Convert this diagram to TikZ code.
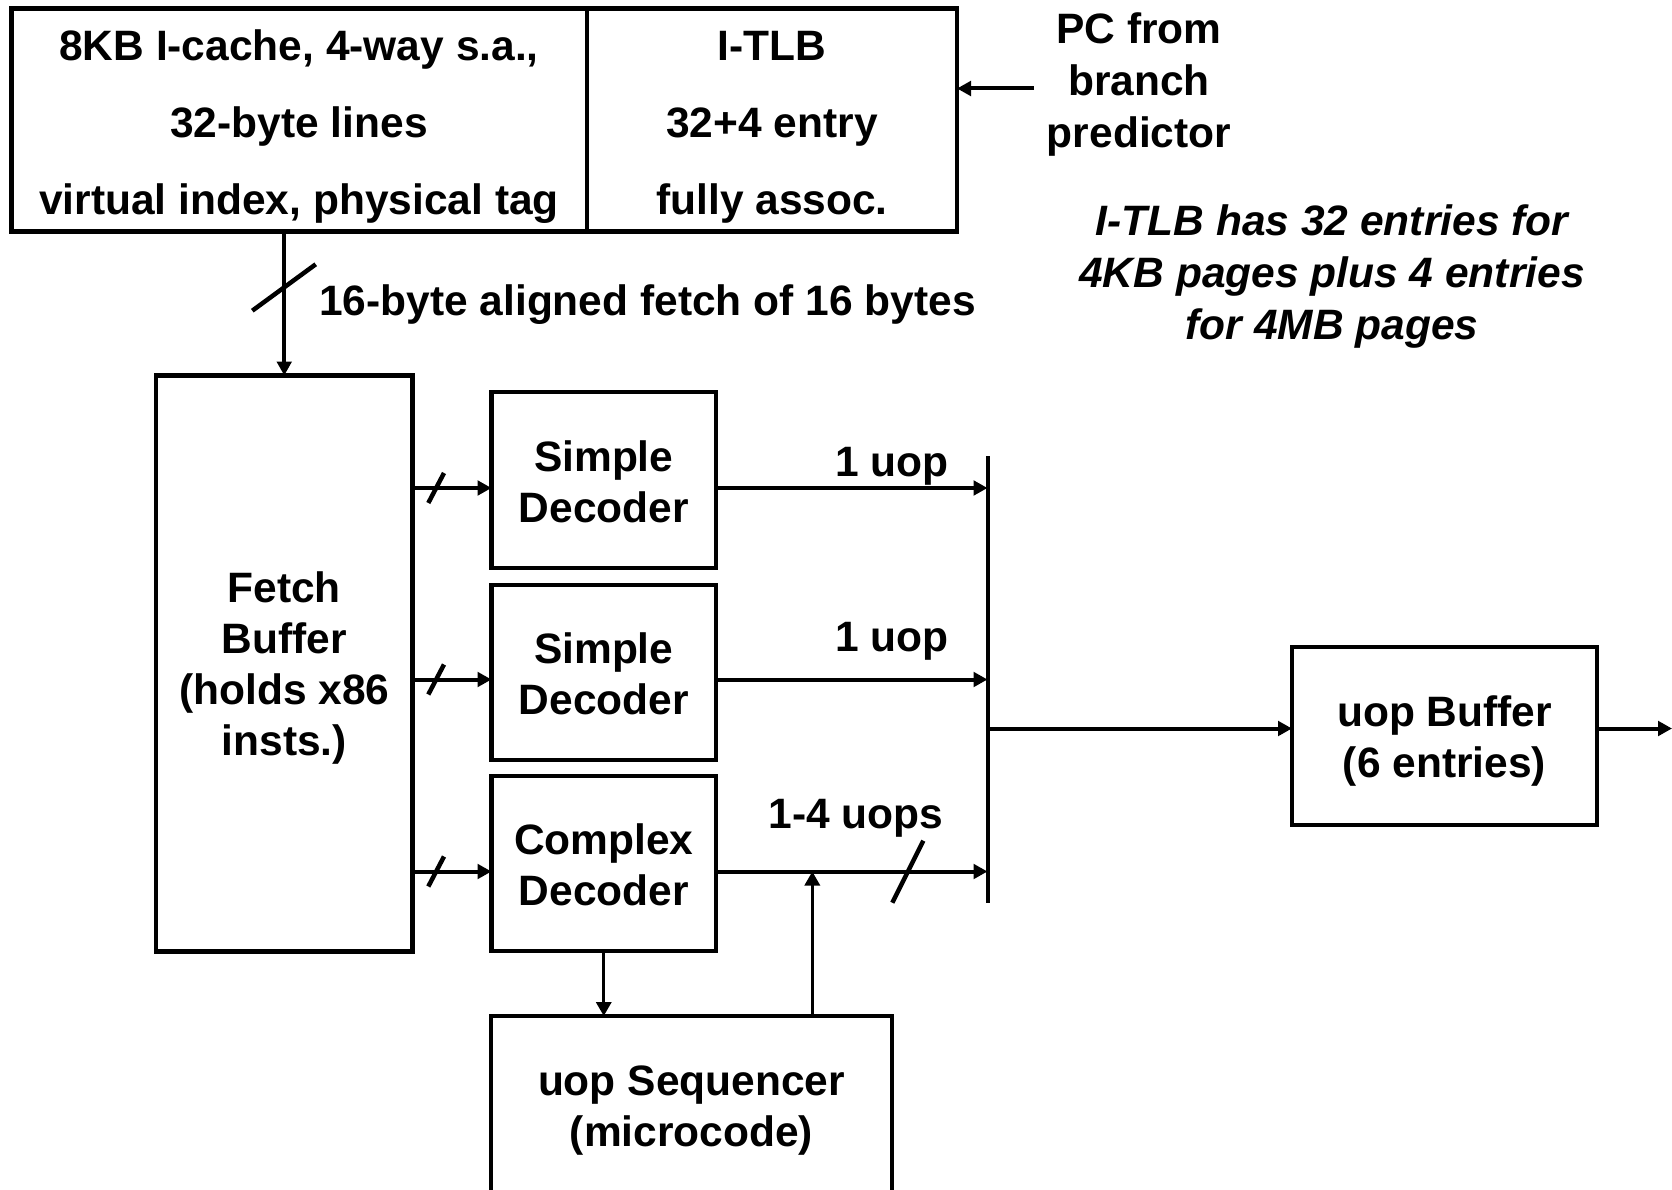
\documentclass[tikz,border=0pt]{standalone}
\usepackage{fontspec}
\setmainfont{Liberation Sans}
\usetikzlibrary{arrows.meta}
\begin{document}
\begin{tikzpicture}[x=1pt,y=-1pt,
  box/.style={draw, line width=4.5pt, rectangle, inner sep=0pt, outer sep=0pt},
  txt/.style={align=center, inner sep=0pt, font=\bfseries\fontsize{42.5}{51}\selectfont},
  conn/.style={line width=4pt, -{Triangle[length=14pt,width=14.5pt]}},
  thinconn/.style={line width=3.3pt, -{Triangle[length=14pt,width=15pt]}},
  slashmark/.style={line width=4.5pt}]
\useasboundingbox (0,0) rectangle (1672,1190);
\clip (0,0) rectangle (1672,1190);
\fill[white] (0,0) rectangle (1672,1190);

% boxes
\node[box, minimum width=575.5pt, minimum height=223pt] (cache) at (299.25,120) {};
\node[box, minimum width=370pt, minimum height=223pt] (itlb) at (772,120) {};
\node[box, minimum width=256.5pt, minimum height=576pt] (fetch) at (284.25,663.5) {};
\node[box, minimum width=224.5pt, minimum height=176pt] (dec1) at (603.75,480) {};
\node[box, minimum width=224.5pt, minimum height=175pt] (dec2) at (603.75,672.5) {};
\node[box, minimum width=224.5pt, minimum height=175pt] (dec3) at (603.75,863.5) {};
\node[box, minimum width=305pt, minimum height=178pt] (ubuf) at (1444.5,736) {};
\node[box, minimum width=401pt, minimum height=182pt] (seq) at (691.5,1107) {};

% texts
\node[txt, font=\bfseries\fontsize{42.5}{77}\selectfont] (cachetxt) at (299,126.5) {8KB I-cache, 4-way s.a.,\\32-byte lines\\virtual index, physical tag};
\node[txt, font=\bfseries\fontsize{42.5}{77}\selectfont] (itlbtxt) at (772,126.8) {I-TLB\\32+4 entry\\fully assoc.};
\node[txt, font=\bfseries\fontsize{42.5}{52}\selectfont] (pctxt) at (1139,85) {PC from\\branch\\predictor};
\node[txt, font=\bfseries\itshape\fontsize{42.5}{52}\selectfont] (note) at (1332,277) {I-TLB has 32 entries for\\4KB pages plus 4 entries\\for 4MB pages};
\node[txt, anchor=base west] (fetchlbl) at (319,315) {16-byte aligned fetch of 16 bytes};
\node[txt] (fetchtxt) at (284.25,668.5) {Fetch\\Buffer\\(holds x86\\insts.)};
\node[txt] (dec1txt) at (603.75,482) {Simple\\Decoder};
\node[txt] (dec2txt) at (603.75,673.5) {Simple\\Decoder};
\node[txt] (dec3txt) at (603.75,864.5) {Complex\\Decoder};
\node[txt] (ubuftxt) at (1444.5,741.5) {uop Buffer\\(6 entries)};
\node[txt] (seqtxt) at (691.5,1111) {uop Sequencer\\(microcode)};
\node[txt, anchor=base] (l1) at (892,476) {1 uop};
\node[txt, anchor=base] (l2) at (892,651) {1 uop};
\node[txt, anchor=base] (l3) at (856,828) {1-4 uops};

% bus
\coordinate (bustop) at (987.5,456);
\coordinate (busbot) at (987.5,903);
\draw[line width=4pt] (bustop) -- (busbot);
\coordinate (pcsrc) at (1034,88.5);
\coordinate (outend) at (1672,728.5);
\coordinate (join) at (812.3,871.5);

% connectors
\draw[conn] (pcsrc) -- (pcsrc -| itlb.east);
\draw[conn] (fetch.north |- cache.south) -- (fetch.north);
\draw[conn] (fetch.east |- 0,488) -- (dec1.west |- 0,488);
\draw[conn] (fetch.east |- 0,679.5) -- (dec2.west |- 0,679.5);
\draw[conn] (fetch.east |- 0,871.5) -- (dec3.west |- 0,871.5);
\draw[conn] (dec1.east |- 0,488) -- (bustop |- 0,488);
\draw[conn] (dec2.east |- 0,679.5) -- (bustop |- 0,679.5);
\draw[conn] (dec3.east |- 0,871.5) -- (bustop |- 0,871.5);
\draw[conn] (bustop |- 0,728.5) -- (ubuf.west |- 0,728.5);
\draw[conn] (ubuf.east |- 0,728.5) -- (outend);
\draw[thinconn] (dec3.south) -- (dec3.south |- seq.north);
\draw[thinconn] (join |- seq.north) -- (join);

% slash marks
\draw[slashmark] (252.3,310.7) -- (315.7,264.3);
\draw[slashmark] (428.3,503) -- (444,473);
\draw[slashmark] (428.3,694.5) -- (444,664.5);
\draw[slashmark] (428.3,886.5) -- (444,856.5);
\draw[slashmark] (892.3,902.7) -- (923.3,840.7);
\end{tikzpicture}
\end{document}
